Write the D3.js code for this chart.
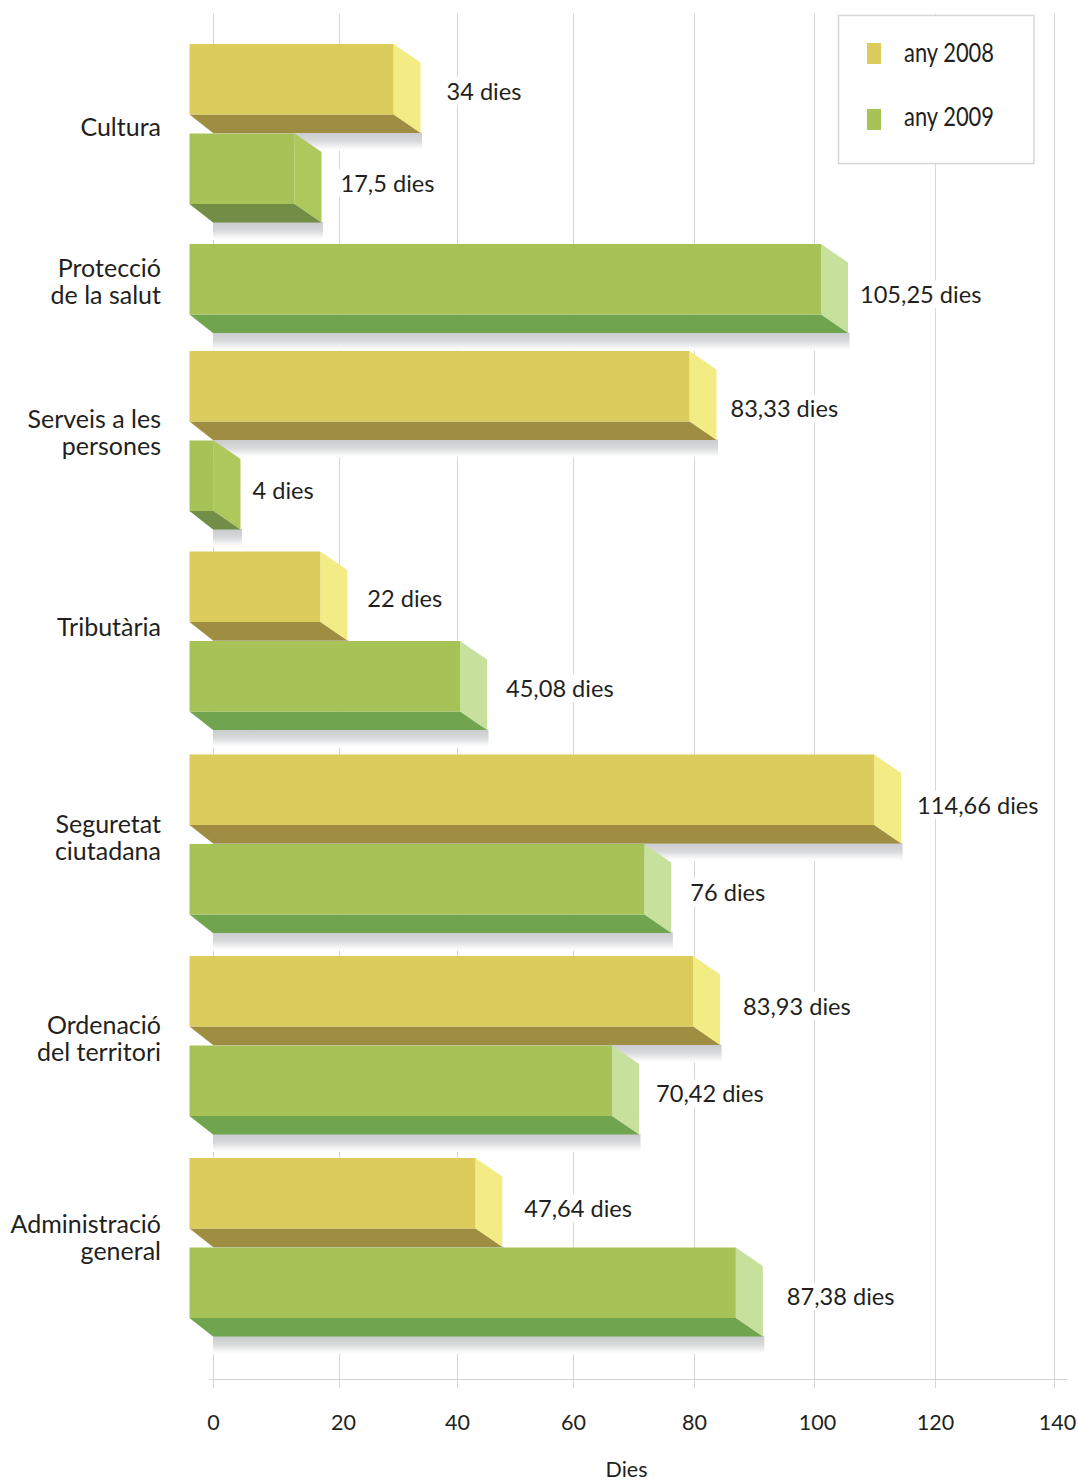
<!DOCTYPE html>
<html><head><meta charset="utf-8">
<script src="https://cdn.jsdelivr.net/npm/d3@7/dist/d3.min.js"></script>
<style>html,body{margin:0;padding:0;background:#fff}svg{display:block}
text{font-family:Lato,"Open Sans",sans-serif;fill:#231f20}</style></head><body>
<script>
// ---- data ----
const categories = ["Cultura","Protecció de la salut","Serveis a les persones","Tributària","Seguretat ciutadana","Ordenació del territori","Administració general"];
const categoryLines = [["Cultura"],["Protecció","de la salut"],["Serveis a les","persones"],["Tributària"],["Seguretat","ciutadana"],["Ordenació","del territori"],["Administració","general"]];
// bar lengths (null = no bar)
const values2008 = [34,null,83.33,21.8,114.1,83.93,47.64];
const values2009 = [17.5,105.25,4,45.08,75.8,70.42,91.05];
// printed value labels
const labels2008 = ["34 dies",null,"83,33 dies","22 dies","114,66 dies","83,93 dies","47,64 dies"];
const labels2009 = ["17,5 dies","105,25 dies","4 dies","45,08 dies","76 dies","70,42 dies","87,38 dies"];
const ticks = [0,20,40,60,80,100,120,140];
const legendItems = ["any 2008","any 2009"];

// ---- layout ----
const W=1078,H=1481;
const tickX = d3.scaleLinear().domain(ticks).range([213.5,339.5,457.5,573.5,694.5,814.5,935.5,1054.5]);
const barX = d3.scaleLinear().domain([0,140]).range([216.5,1056.5]);
const rowY = d3.scaleOrdinal().domain(categories).range([133.5,244,440.5,641,844,1045.5,1247.5]);
const catY = d3.scaleOrdinal().domain(categories).range([127,281.5,433,627,838,1038.5,1238]);
const gap2008=[26,0,14,20,16,23,22], gap2009=[19,12,12,19,19,17,24];
const dy2008=[48,0,58,47,51,51,51], dy2009=[50.5,51,50.5,48,49,48.5,49.5];
const FS=23.6, CFS=25, TFS=21.5, left=189.5, depthL=23.5, depthR=27, faceH=70.5, botH=18.5, shadowH=16;
const pal = {
  y:{front:"#dccc5c",side:"#f3ec85",bottom:"#9f8e42"},
  g:{front:"#a7c257",side:"#c7e09c",bottom:"#70a44e"},
  gs:{front:"#a7c257",side:"#adc95c",bottom:"#728d45"}
};

const svg=d3.select("body").append("svg").attr("width",W).attr("height",H);
const grad=svg.append("defs").append("linearGradient").attr("id","sh").attr("x1",0).attr("x2",0).attr("y1",0).attr("y2",1);
grad.append("stop").attr("offset",0).attr("stop-color","#c9cbcd");
grad.append("stop").attr("offset",0.45).attr("stop-color","#d6d8d9");
grad.append("stop").attr("offset",0.9).attr("stop-color","#fbfbfb");
grad.append("stop").attr("offset",1).attr("stop-color","#ffffff");

// grid
svg.append("g").selectAll("line").data(ticks).join("line")
  .attr("x1",d=>tickX(d)).attr("x2",d=>tickX(d)).attr("y1",14).attr("y2",1388)
  .attr("stroke","#d6d6d6").attr("stroke-width",1);

// axis
const axis=svg.append("g").attr("transform","translate(0,1379.5)")
  .call(d3.axisBottom(tickX).tickValues(ticks).tickSize(0).tickPadding(35).tickFormat(d3.format("d")));
axis.select(".domain").attr("d","M209,0H1067").attr("stroke","#d6d6d6").attr("stroke-width",1);
axis.selectAll("text").style("font-family",'Lato,sans-serif').style("font-size",TFS+"px").attr("fill","#231f20")
  .attr("dx",d=>({20:3.5,100:2.5,140:2.5})[d]||-0.5);
svg.append("text").attr("x",626.5).attr("y",1477).attr("text-anchor","middle").style("font-size",TFS+"px").text("Dies");

// bars
const rows=[];
categories.forEach((c,i)=>{
  if(values2008[i]!=null) rows.push({c,v:values2008[i],label:labels2008[i],y:rowY(c)-89.5,p:pal.y,gap:gap2008[i],dy:dy2008[i]});
  rows.push({c,v:values2009[i],label:labels2009[i],y:rowY(c),p:values2009[i]<20?pal.gs:pal.g,gap:gap2009[i],dy:dy2009[i]});
});
const bars=svg.append("g").selectAll("g").data(rows).join("g");
bars.append("rect").attr("x",left+depthL).attr("y",d=>d.y+faceH+botH-0.5)
  .attr("width",d=>barX(d.v)-left-depthL+1.5).attr("height",shadowH+2).attr("fill","url(#sh)");
bars.append("polygon").attr("fill",d=>d.p.side).attr("points",d=>{
  const o=barX(d.v),f=o-depthR;
  return [[f,d.y],[o,d.y+botH],[o,d.y+faceH+botH],[f,d.y+faceH]].join(" ");});
bars.append("polygon").attr("fill",d=>d.p.bottom).attr("points",d=>{
  const o=barX(d.v),f=o-depthR;
  return [[left,d.y+faceH],[f,d.y+faceH],[o,d.y+faceH+botH],[left+depthL,d.y+faceH+botH]].join(" ");});
bars.append("rect").attr("fill",d=>d.p.front).attr("x",left).attr("y",d=>d.y)
  .attr("width",d=>barX(d.v)-depthR-left).attr("height",faceH);

// value labels with white knock-out
const vl=svg.append("g").selectAll("g").data(rows).join("g")
  .attr("transform",d=>`translate(${barX(d.v)+d.gap},${d.y+d.dy})`);
vl.append("text").attr("dy","0.35em").style("font-size",FS+"px").text(d=>d.label);
vl.each(function(){const g=d3.select(this),b=g.select("text").node().getBBox();
  g.insert("rect","text").attr("x",b.x-2).attr("y",b.y).attr("width",b.width+4).attr("height",b.height).attr("fill","#fff");});

// category labels
const cl=svg.append("g").selectAll("text").data(categories).join("text")
  .attr("text-anchor","end").style("font-size",CFS+"px");
cl.each(function(c,i){
  const lines=categoryLines[i],t=d3.select(this),y0=catY(c)-(lines.length-1)*13.5;
  lines.forEach((l,k)=>t.append("tspan").attr("x",161).attr("y",y0+k*27).attr("dy","0.35em").text(l));
});

// legend
const lg=svg.append("g");
lg.append("rect").attr("x",838.5).attr("y",15.5).attr("width",195.5).attr("height",148).attr("fill","#fff").attr("stroke","#d6d6d6").attr("stroke-width",1.5);
const li=lg.selectAll("g").data(legendItems).join("g").attr("transform",(d,i)=>`translate(867,${43+i*66})`);
li.append("rect").attr("width",14).attr("height",21).attr("fill",(d,i)=>i?pal.g.front:pal.y.front);
li.append("text").attr("x",37).attr("y",(d,i)=>9.5-i*2).attr("dy","0.35em").style("font-size","26.5px").attr("textLength",90).attr("lengthAdjust","spacingAndGlyphs").text(d=>d);
</script></body></html>
